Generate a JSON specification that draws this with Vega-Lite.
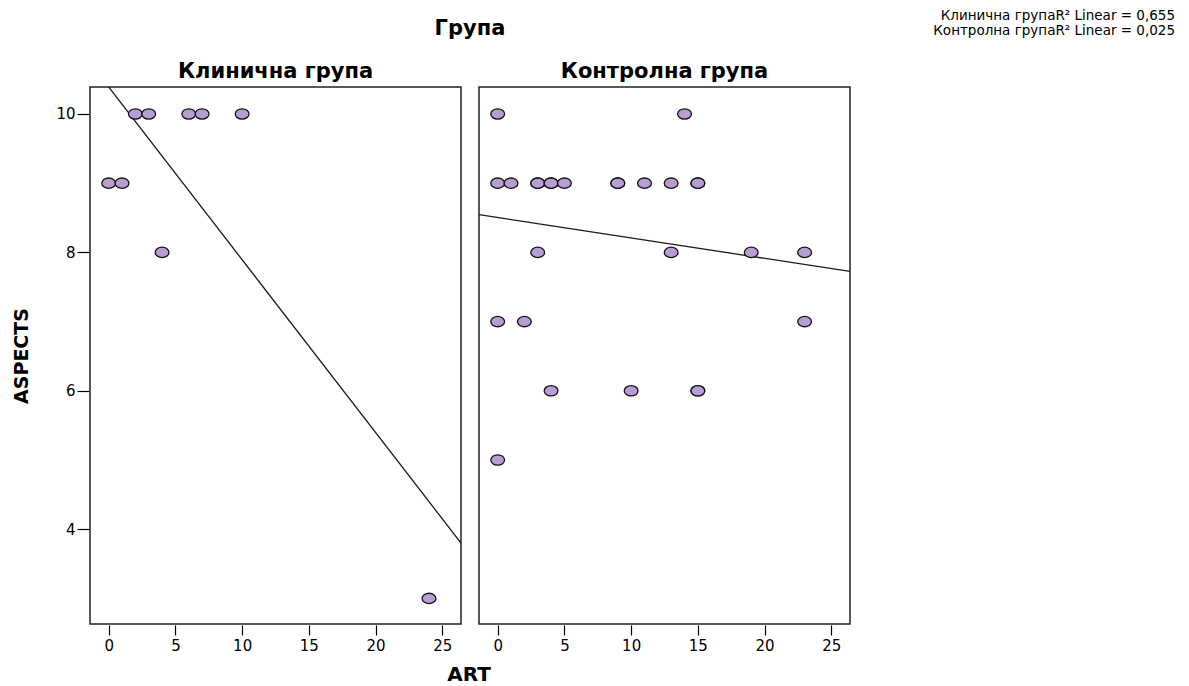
{
  "$schema": "https://vega.github.io/schema/vega-lite/v6.json",
  "padding": {"left": 12, "top": 8, "right": 10, "bottom": 0},
  "background": "white",
  "title": {
    "text": ["Клинична групаR² Linear = 0,655", "Контролна групаR² Linear = 0,025"],
    "anchor": "start",
    "align": "right",
    "frame": "group",
    "font": "DejaVu Sans",
    "fontSize": 13.5,
    "fontWeight": "normal",
    "color": "#000000",
    "lineHeight": 15,
    "dx": 1085,
    "dy": 19,
    "offset": 0
  },
  "data": {
    "values": [
      {"group": "Клинична група", "kind": "pt", "ART": 0, "ASPECTS": 9},
      {"group": "Клинична група", "kind": "pt", "ART": 1, "ASPECTS": 9},
      {"group": "Клинична група", "kind": "pt", "ART": 2, "ASPECTS": 10},
      {"group": "Клинична група", "kind": "pt", "ART": 3, "ASPECTS": 10},
      {"group": "Клинична група", "kind": "pt", "ART": 6, "ASPECTS": 10},
      {"group": "Клинична група", "kind": "pt", "ART": 7, "ASPECTS": 10},
      {"group": "Клинична група", "kind": "pt", "ART": 10, "ASPECTS": 10},
      {"group": "Клинична група", "kind": "pt", "ART": 4, "ASPECTS": 8},
      {"group": "Клинична група", "kind": "pt", "ART": 24, "ASPECTS": 3},
      {"group": "Контролна група", "kind": "pt", "ART": 0, "ASPECTS": 10},
      {"group": "Контролна група", "kind": "pt", "ART": 14, "ASPECTS": 10},
      {"group": "Контролна група", "kind": "pt", "ART": 0, "ASPECTS": 9},
      {"group": "Контролна група", "kind": "pt", "ART": 1, "ASPECTS": 9},
      {"group": "Контролна група", "kind": "pt", "ART": 3, "ASPECTS": 9},
      {"group": "Контролна група", "kind": "pt", "ART": 3, "ASPECTS": 9},
      {"group": "Контролна група", "kind": "pt", "ART": 4, "ASPECTS": 9},
      {"group": "Контролна група", "kind": "pt", "ART": 4, "ASPECTS": 9},
      {"group": "Контролна група", "kind": "pt", "ART": 5, "ASPECTS": 9},
      {"group": "Контролна група", "kind": "pt", "ART": 9, "ASPECTS": 9},
      {"group": "Контролна група", "kind": "pt", "ART": 9, "ASPECTS": 9},
      {"group": "Контролна група", "kind": "pt", "ART": 11, "ASPECTS": 9},
      {"group": "Контролна група", "kind": "pt", "ART": 13, "ASPECTS": 9},
      {"group": "Контролна група", "kind": "pt", "ART": 15, "ASPECTS": 9},
      {"group": "Контролна група", "kind": "pt", "ART": 15, "ASPECTS": 9},
      {"group": "Контролна група", "kind": "pt", "ART": 3, "ASPECTS": 8},
      {"group": "Контролна група", "kind": "pt", "ART": 13, "ASPECTS": 8},
      {"group": "Контролна група", "kind": "pt", "ART": 19, "ASPECTS": 8},
      {"group": "Контролна група", "kind": "pt", "ART": 23, "ASPECTS": 8},
      {"group": "Контролна група", "kind": "pt", "ART": 0, "ASPECTS": 7},
      {"group": "Контролна група", "kind": "pt", "ART": 2, "ASPECTS": 7},
      {"group": "Контролна група", "kind": "pt", "ART": 23, "ASPECTS": 7},
      {"group": "Контролна група", "kind": "pt", "ART": 4, "ASPECTS": 6},
      {"group": "Контролна група", "kind": "pt", "ART": 10, "ASPECTS": 6},
      {"group": "Контролна група", "kind": "pt", "ART": 15, "ASPECTS": 6},
      {"group": "Контролна група", "kind": "pt", "ART": 15, "ASPECTS": 6},
      {"group": "Контролна група", "kind": "pt", "ART": 0, "ASPECTS": 5},
      {"group": "Клинична група", "kind": "fit", "ART": -1.4, "ASPECTS": 10.74},
      {"group": "Клинична група", "kind": "fit", "ART": 26.4, "ASPECTS": 3.8},
      {"group": "Контролна група", "kind": "fit", "ART": -1.4, "ASPECTS": 8.545},
      {"group": "Контролна група", "kind": "fit", "ART": 26.4, "ASPECTS": 7.725}
    ]
  },
  "vconcat": [
    {
      "title": {
        "text": "ART",
        "orient": "bottom",
        "anchor": "start",
        "align": "center",
        "frame": "group",
        "dx": 379,
        "offset": 12,
        "font": "DejaVu Sans",
        "fontSize": 20,
        "fontWeight": "bold",
        "color": "#000000"
      },
      "facet": {
        "column": {
          "field": "group",
          "type": "nominal",
          "sort": ["Клинична група", "Контролна група"],
          "title": "Група",
          "header": {
            "titleFont": "DejaVu Sans",
            "titleFontSize": 21,
            "titleFontWeight": "bold",
            "titleColor": "#000000",
            "titlePadding": 12,
            "labelFont": "DejaVu Sans",
            "labelFontSize": 21,
            "labelFontWeight": "bold",
            "labelColor": "#000000",
            "labelPadding": 4
          }
        }
      },
      "spacing": 16,
      "spec": {
        "width": 371,
        "height": 537,
        "encoding": {
          "x": {
            "field": "ART",
            "type": "quantitative",
            "title": null,
            "scale": {"domain": [-1.4, 26.4], "nice": false, "zero": false},
            "axis": {"values": [0, 5, 10, 15, 20, 25]}
          },
          "y": {
            "field": "ASPECTS",
            "type": "quantitative",
            "title": "ASPECTS",
            "scale": {"domain": [2.63, 10.39], "nice": false, "zero": false},
            "axis": {"values": [4, 6, 8, 10]}
          }
        },
        "layer": [
          {
            "transform": [{"filter": "datum.kind === 'fit'"}],
            "mark": {"type": "line", "color": "#1a1a1a", "strokeWidth": 1.3, "clip": true}
          },
          {
            "transform": [{"filter": "datum.kind === 'pt'"}],
            "mark": {
              "type": "point",
              "filled": true,
              "shape": "M -1 0 A 1 0.75 0 1 0 1 0 A 1 0.75 0 1 0 -1 0 Z",
              "size": 190,
              "fill": "#b79ed2",
              "stroke": "#111111",
              "strokeWidth": 1.3,
              "opacity": 1
            }
          }
        ]
      }
    }
  ],
  "config": {
    "view": {"stroke": "#222222", "strokeWidth": 1.5},
    "axis": {
      "grid": false,
      "domain": false,
      "tickColor": "#000000",
      "tickWidth": 1.2,
      "labelFont": "DejaVu Sans",
      "labelFontSize": 15,
      "labelColor": "#000000",
      "titleFont": "DejaVu Sans",
      "titleFontSize": 19,
      "titleFontWeight": "bold",
      "titleColor": "#000000"
    },
    "axisX": {"tickSize": 10, "labelPadding": 3},
    "axisY": {"tickSize": 12, "labelPadding": 2, "titlePadding": 24}
  }
}
